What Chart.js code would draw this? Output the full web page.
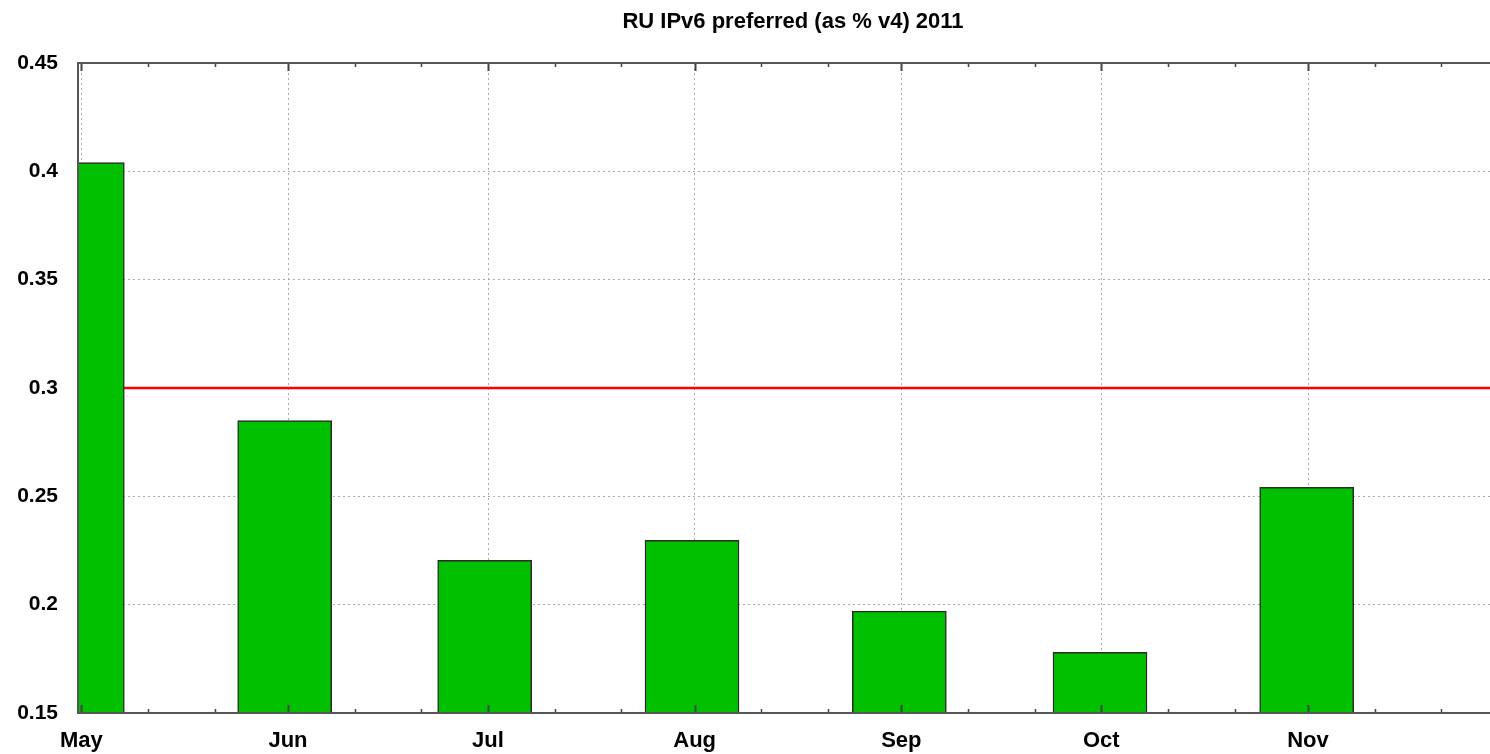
<!DOCTYPE html>
<html>
<head>
<meta charset="utf-8">
<title>RU IPv6 preferred</title>
<script src="https://cdn.jsdelivr.net/npm/chart.js@4.4.1/dist/chart.umd.min.js"></script>
<style>
    html, body { margin: 0; padding: 0; background: #ffffff; overflow: hidden; }
    #chartBox { width: 1508px; height: 754px; position: relative; }
</style>
</head>
<body>
<div id="chartBox"><canvas id="myChart"></canvas></div>
<script>
// Month labels and their first day (days counted from 1 May 2011)
const monthLabels = ["May", "Jun", "Jul", "Aug", "Sep", "Oct", "Nov"];
const monthStartDays = [0, 31, 61, 92, 123, 153, 184];
// minor ticks on the 11th and 21st of each month
const minorTickDays = [10, 20, 41, 51, 71, 81, 102, 112, 133, 143, 163, 173, 194, 204];

// Bars: position (day) and value
const barDays = [-0.6, 30.5, 60.5, 91.6, 122.7, 152.8, 183.8];
const ipv6Values = [0.404, 0.285, 0.2205, 0.2297, 0.197, 0.178, 0.2542];

// Reference line
const thresholdValue = 0.3;

const xMin = -0.5;
const xMax = 214;

const fontFamily = "'Liberation Sans', Arial, sans-serif";

// Ticks drawn inside the frame, top and bottom, plus the frame itself
const frameTicksPlugin = {
    id: "frameTicks",
    afterDatasetsDraw(chart) {
        const ctx = chart.ctx;
        const area = chart.chartArea;
        const xScale = chart.scales.x;

        ctx.save();
        ctx.strokeStyle = "#444444";

        xScale.ticks.forEach((tick) => {
            const px = Math.round(xScale.getPixelForValue(tick.value)) + 0.5;
            const len = tick.major ? 8 : 4;
            ctx.lineWidth = tick.major ? 2 : 1.5;
            ctx.beginPath();
            ctx.moveTo(px, area.top);
            ctx.lineTo(px, area.top + len);
            ctx.moveTo(px, area.bottom);
            ctx.lineTo(px, area.bottom - len);
            ctx.stroke();
        });

        ctx.lineWidth = 2;
        ctx.strokeStyle = "#555555";
        ctx.strokeRect(area.left, area.top, area.right - area.left, area.bottom - area.top);
        ctx.restore();
    },
};

const ctx = document.getElementById("myChart").getContext("2d");

const myChart = new Chart(ctx, {
    type: "bar",
    data: {
        datasets: [
            {
                type: "bar",
                label: "IPv6 preferred",
                data: barDays.map((d, i) => ({ x: d, y: ipv6Values[i] })),
                backgroundColor: "#00c000",
                borderColor: "#2a2a2a",
                borderWidth: 1.5,
                borderSkipped: "start",
                barThickness: 94,
                clip: 0,
                order: 1,
            },
            {
                type: "line",
                label: "threshold",
                data: [
                    { x: xMin, y: thresholdValue },
                    { x: xMax, y: thresholdValue },
                ],
                borderColor: "#ff0000",
                borderWidth: 2.5,
                pointRadius: 0,
                fill: false,
                order: 2,
            },
        ],
    },
    options: {
        responsive: true,
        maintainAspectRatio: false,
        animation: false,
        events: [],
        layout: { padding: 0 },
        plugins: {
            legend: { display: false },
            tooltip: { enabled: false },
            title: {
                display: true,
                text: "RU IPv6 preferred (as % v4) 2011",
                color: "#000000",
                fullSize: false,
                font: { family: fontFamily, size: 22, weight: "bold" },
                padding: { top: 9, bottom: 27.6 },
            },
        },
        scales: {
            x: {
                type: "linear",
                min: xMin,
                max: xMax,
                offset: false,
                afterBuildTicks(scale) {
                    const ticks = [];
                    monthStartDays.forEach((d) => ticks.push({ value: d, major: true }));
                    minorTickDays.forEach((d) => ticks.push({ value: d, major: false }));
                    ticks.sort((a, b) => a.value - b.value);
                    scale.ticks = ticks;
                },
                afterFit(scale) {
                    scale.height = 41;
                },
                ticks: {
                    autoSkip: false,
                    maxRotation: 0,
                    padding: 15,
                    color: "#000000",
                    font: { family: fontFamily, size: 22, weight: "bold" },
                    callback: function (value) {
                        const idx = monthStartDays.indexOf(value);
                        return idx >= 0 ? monthLabels[idx] : "";
                    },
                },
                grid: {
                    offset: false,
                    drawTicks: false,
                    color: (c) => (c.tick && c.tick.major ? "#aaaaaa" : "rgba(0,0,0,0)"),
                    lineWidth: 1,
                },
                border: { display: false, dash: [2, 3] },
            },
            y: {
                min: 0.15,
                max: 0.45,
                afterFit(scale) {
                    scale.width = 78;
                },
                ticks: {
                    stepSize: 0.05,
                    padding: 20,
                    color: "#000000",
                    font: { family: fontFamily, size: 21, weight: "bold" },
                    callback: function (value) {
                        return String(Number(value.toFixed(2)));
                    },
                },
                grid: {
                    drawTicks: false,
                    color: (c) => {
                        const v = c.tick ? c.tick.value : 0;
                        return v > 0.16 && v < 0.44 ? "#aaaaaa" : "rgba(0,0,0,0)";
                    },
                    lineWidth: 1,
                },
                border: { display: false, dash: [2, 3] },
            },
        },
    },
    plugins: [frameTicksPlugin],
});
</script>
</body>
</html>
